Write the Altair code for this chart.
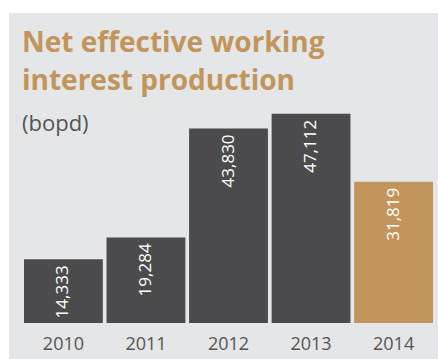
import altair as alt
import pandas as pd

years = ["2010", "2011", "2012", "2013", "2014"]
values = [14333, 19284, 43830, 47112, 31819]
highlight = [False, False, False, False, True]
title_lines = ["Net effective working", "interest production"]
unit_label = "(bopd)"

BG = "#e5e6e7"
DARK = "#4b4b4d"
GOLD = "#c1955b"
FONT = "Open Sans"

df = pd.DataFrame({"year": years, "value": values, "hl": highlight})
df["label"] = [f"{v:,}" for v in values]

W, H = 409, 222

bg = alt.Chart(pd.DataFrame({"a": [0]})).mark_rect(color=BG).encode(
    x=alt.value(-15), x2=alt.value(420), y=alt.value(-88), y2=alt.value(270)
)

xenc = alt.X("year:N", sort=years,
             scale=alt.Scale(paddingInner=0.045, paddingOuter=0),
             axis=alt.Axis(title=None, labelAngle=0, domain=False, ticks=False,
                           labelPadding=12, labelFont=FONT, labelFontSize=18,
                           labelColor="#555555", zindex=1))
yenc = alt.Y("value:Q", scale=alt.Scale(domain=[0, 50000], nice=False), axis=None)

bars = alt.Chart(df).mark_bar().encode(
    x=xenc, y=yenc,
    color=alt.Color("hl:N", scale=alt.Scale(domain=[False, True], range=[DARK, GOLD]), legend=None),
)

labels = alt.Chart(df).mark_text(
    angle=270, align="right", baseline="middle", dx=-6, color="white",
    font=FONT, fontSize=17
).encode(x=alt.X("year:N", sort=years), y=yenc, text="label:N")

tdf = pd.DataFrame({"t": title_lines, "yy": [-49, -11]})
title = alt.Chart(tdf).mark_text(
    align="left", baseline="alphabetic", color=GOLD, font=FONT,
    fontSize=28, fontWeight="bold"
).encode(x=alt.value(-2), y=alt.Y("yy:Q", scale=None), text="t:N")

sub = alt.Chart(pd.DataFrame({"t": [unit_label]})).mark_text(
    align="left", baseline="alphabetic", color="#555555", font=FONT, fontSize=22
).encode(x=alt.value(-2), y=alt.value(30), text="t:N")

chart = alt.layer(bg, bars, labels, title, sub).properties(
    width=W, height=H,
    autosize=alt.AutoSizeParams(type="none"),
    padding={"left": 24, "top": 101, "right": 5, "bottom": 36},
    background="white",
).configure_view(stroke=None)

chart.save("out.html", embed_options={"renderer": "svg", "actions": False})
